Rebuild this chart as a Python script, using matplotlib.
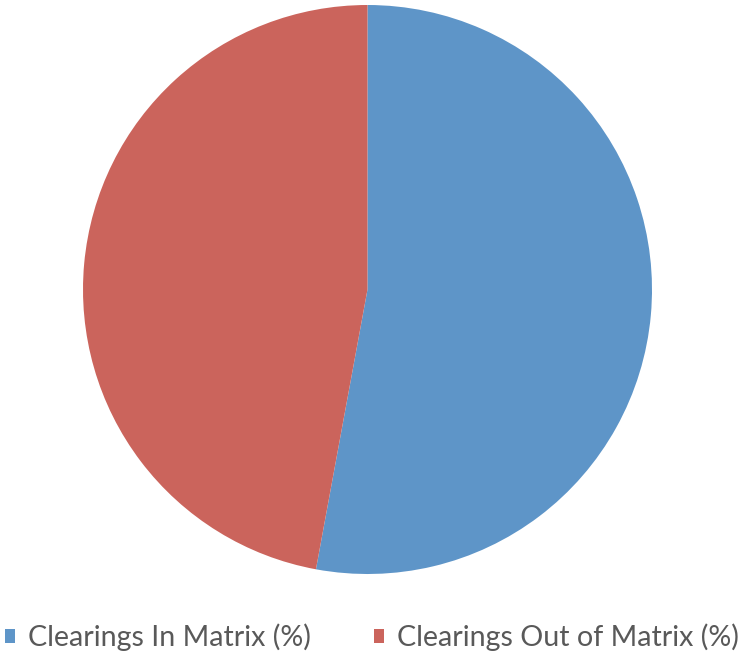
import matplotlib.pyplot as plt
from matplotlib.patches import Patch

# data
labels = ["Clearings In Matrix (%)", "Clearings Out of Matrix (%)"]
values = [52.9, 47.1]
colors = ["#5E95C8", "#CB645C"]

fig = plt.figure(figsize=(7.43, 6.55), dpi=100)
ax = fig.add_axes([0, 0, 1, 1])

ax.pie(values, colors=colors, startangle=90, counterclock=False,
       center=(367.5, 365.5), radius=284.5, frame=True)
ax.set_xlim(0, 743)
ax.set_ylim(0, 655)
ax.set_aspect("equal")
ax.axis("off")

handles = [Patch(facecolor=c, edgecolor="none") for c in colors]
leg = fig.legend(handles, labels, loc="center left", bbox_to_anchor=(0.0067, 0.027),
                 ncol=2, frameon=False, handlelength=0.35, handleheight=0.35,
                 handletextpad=0.45, columnspacing=2.2, borderaxespad=0,
                 borderpad=0,
                 prop={"family": "Lato", "size": 20.6})
for t in leg.get_texts():
    t.set_color("#595959")

plt.savefig("out.png", dpi=100)
